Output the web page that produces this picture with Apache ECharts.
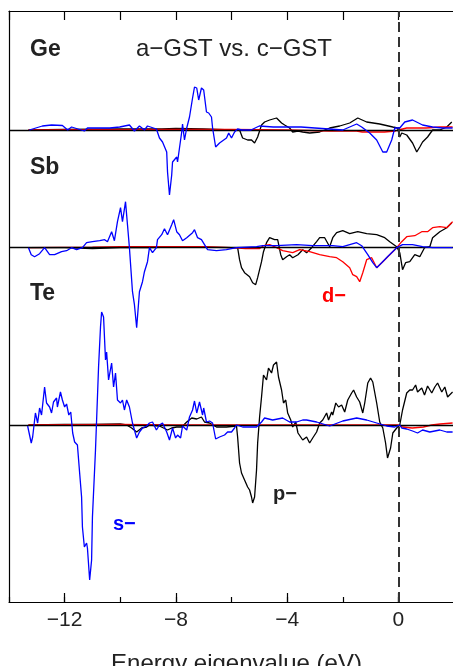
<!DOCTYPE html>
<html>
<head>
<meta charset="utf-8">
<script src="https://cdn.jsdelivr.net/npm/echarts@6/dist/echarts.min.js"></script>
<style>html,body{margin:0;padding:0;background:#fff;}#c{width:453px;height:666px;}</style>
</head>
<body>
<div id="c"></div>
<script>
// Energy axis ticks (eV)
var majorTicks = [-12, -8, -4, 0];
var xTitle = 'Energy eigenvalue (eV)';
var panelNames = ['Ge', 'Sb', 'Te'];
var titleText = 'a\u2212GST vs. c\u2212GST';
var orbitalLabels = ['s\u2212', 'p\u2212', 'd\u2212'];

// Ge: DOS difference a-GST minus c-GST, [energy eV, value]
var geS = [[-13.27,0],[-12.80,0.04],[-12.47,0.05],[-12.08,0.045],[-11.89,0],[-11.75,0.03],[-11.29,-0.01],[-11.18,0.02],[-10.74,0.02],[-10.38,0.02],[-10.02,0.03],[-9.67,0.05],[-9.49,-0.01],[-9.31,0.04],[-9.13,0],[-9.02,0.04],[-8.95,0.05],[-8.70,0.01],[-8.59,-0.08],[-8.48,-0.12],[-8.33,-0.22],[-8.30,-0.42],[-8.23,-0.65],[-8.15,-0.45],[-8.12,-0.32],[-7.97,-0.27],[-7.94,-0.32],[-7.87,-0.18],[-7.79,-0.02],[-7.76,0.06],[-7.69,-0.10],[-7.61,0.02],[-7.51,0.13],[-7.40,0.32],[-7.33,0.43],[-7.25,0.42],[-7.18,0.30],[-7.08,0.42],[-7.00,0.40],[-6.90,0.18],[-6.82,0.17],[-6.72,0.13],[-6.68,0.02],[-6.57,-0.17],[-6.43,-0.13],[-6.18,-0.08],[-6.10,-0.03],[-6.00,-0.08],[-5.89,-0.02],[-5.78,0.01],[-5.64,0],[-5.30,0.0],[-5.00,0.04],[-4.50,0.03],[-4.00,0.03],[-3.50,0.03],[-3.00,0.02],[-2.50,0.01],[-2.00,0.0],[-1.50,0.06],[-1.32,0.03],[-1.03,-0.03],[-0.78,-0.10],[-0.56,-0.22],[-0.42,-0.22],[-0.24,-0.10],[-0.13,0.02],[0.05,0.02],[0.23,0.08],[0.51,0.10],[0.87,0.05],[1.23,0.03],[1.59,0.02],[1.95,0.02]];
var geP = [[-13.30,0],[-12.0,0.005],[-10.0,0.01],[-8.5,0.01],[-8.0,0.015],[-7.0,0.01],[-6.0,0.0],[-5.71,0],[-5.60,-0.08],[-5.42,-0.10],[-5.28,-0.10],[-5.17,-0.13],[-5.06,-0.07],[-4.92,0.05],[-4.81,0.08],[-4.63,0.10],[-4.38,0.12],[-4.20,0.07],[-4.09,0.05],[-3.91,0.02],[-3.80,-0.02],[-3.61,-0.01],[-3.44,-0.02],[-3.19,-0.03],[-2.83,-0.02],[-2.47,0.02],[-2.11,0.04],[-1.75,0.07],[-1.46,0.12],[-1.14,0.08],[-0.67,0.06],[-0.20,0.03],[-0.03,0.02],[0.05,-0.07],[0.12,-0.03],[0.30,-0.05],[0.51,-0.13],[0.66,-0.22],[0.77,-0.17],[0.87,-0.12],[1.05,-0.07],[1.23,0],[1.49,0],[1.74,0.03],[1.92,0.08]];
var geD = [[-13.30,0],[-8.0,0.005],[-6.0,0.005],[-4.0,0.0],[-2.5,-0.01],[-1.5,-0.01],[-1.3,-0.02],[-0.9,-0.02],[-0.5,-0.02],[-0.1,-0.01],[0,0],[0.3,0.02],[1.0,0.02],[1.5,0.03],[1.95,0.03]];

// Sb
var sbS = [[-13.30,0],[-13.20,-0.07],[-13.08,-0.09],[-12.90,-0.06],[-12.72,0],[-12.54,-0.07],[-12.36,-0.07],[-12.11,-0.04],[-11.93,-0.03],[-11.75,0],[-11.57,-0.02],[-11.36,0],[-11.21,0.05],[-11.00,0.06],[-10.74,0.07],[-10.56,0.08],[-10.46,0.06],[-10.31,0.16],[-10.21,0.07],[-10.10,0.26],[-9.99,0.40],[-9.92,0.26],[-9.81,0.46],[-9.74,0.23],[-9.67,0],[-9.56,-0.44],[-9.49,-0.57],[-9.41,-0.80],[-9.31,-0.44],[-9.20,-0.34],[-9.13,-0.24],[-9.02,-0.14],[-8.95,0],[-8.84,-0.05],[-8.70,0],[-8.66,0.08],[-8.51,0.13],[-8.41,0.19],[-8.30,0.13],[-8.15,0.23],[-8.08,0.28],[-7.97,0.16],[-7.87,0.13],[-7.76,0.07],[-7.61,0.10],[-7.54,0.08],[-7.40,0.15],[-7.33,0.18],[-7.22,0.10],[-7.08,0.08],[-6.97,0.03],[-6.86,-0.02],[-6.54,-0.03],[-6.18,-0.02],[-5.82,0],[-5.10,0.01],[-4.88,0.02],[-4.38,0.02],[-3.66,0.03],[-3.08,0.02],[-2.36,0.02],[-2.00,0.01],[-1.50,0.05],[-1.32,0.02],[-1.10,-0.07],[-0.92,-0.15],[-0.78,-0.20],[-0.60,-0.15],[-0.39,-0.09],[-0.06,0],[0.15,0.03],[0.51,0.03],[0.87,0.01],[1.23,0],[1.95,0]];
var sbP = [[-13.30,0],[-12.0,0],[-11.0,-0.01],[-10.0,0.0],[-9.0,0],[-8.0,0.005],[-7.0,0.005],[-6.0,0],[-5.78,0],[-5.71,-0.12],[-5.64,-0.20],[-5.53,-0.25],[-5.46,-0.24],[-5.35,-0.29],[-5.24,-0.35],[-5.13,-0.37],[-5.06,-0.30],[-4.92,-0.14],[-4.85,-0.04],[-4.74,0.05],[-4.63,0.10],[-4.45,0.08],[-4.34,0.08],[-4.23,-0.07],[-4.16,-0.12],[-4.02,-0.09],[-3.91,-0.07],[-3.80,-0.10],[-3.61,-0.07],[-3.44,-0.02],[-3.30,-0.05],[-3.12,0],[-2.94,0.06],[-2.83,0.10],[-2.65,0.10],[-2.47,0.01],[-2.36,0.10],[-2.22,0.15],[-2.00,0.17],[-1.75,0.14],[-1.46,0.16],[-1.14,0.14],[-0.78,0.13],[-0.49,0.10],[-0.31,0.06],[-0.06,0.01],[0.05,-0.05],[0.15,-0.22],[0.26,-0.15],[0.41,-0.14],[0.59,-0.07],[0.77,-0.09],[0.94,0],[1.13,0.01],[1.23,0.10],[1.49,0.16],[1.74,0.20],[1.92,0.25]];
var sbD = [[-13.30,0],[-11.0,0.005],[-10.0,0.01],[-9.0,0.01],[-8.0,0.01],[-7.0,0.01],[-6.0,0],[-5.5,-0.01],[-5.0,-0.01],[-4.85,0.02],[-4.63,0.03],[-4.38,0],[-4.16,-0.03],[-3.80,-0.05],[-3.55,-0.02],[-3.19,-0.04],[-2.83,-0.07],[-2.47,-0.09],[-2.22,-0.10],[-2.00,-0.14],[-1.75,-0.20],[-1.64,-0.27],[-1.50,-0.29],[-1.39,-0.34],[-1.28,-0.25],[-1.14,-0.12],[-0.96,-0.10],[-0.78,-0.20],[-0.56,-0.14],[-0.31,-0.07],[-0.06,0],[0.12,0.06],[0.30,0.11],[0.59,0.12],[0.84,0.16],[1.05,0.16],[1.23,0.20],[1.49,0.21],[1.74,0.20],[1.95,0.26]];

// Te
var teS = [[-13.33,-0.01],[-13.20,-0.18],[-13.15,-0.12],[-13.05,0.12],[-12.97,0.02],[-12.90,0.17],[-12.83,0.10],[-12.72,0.38],[-12.65,0.22],[-12.54,0.18],[-12.47,0.12],[-12.40,0.23],[-12.29,0.27],[-12.26,0.18],[-12.15,0.33],[-12.08,0.25],[-12.00,0.18],[-11.93,0.21],[-11.85,0.10],[-11.78,0.13],[-11.71,-0.08],[-11.64,-0.17],[-11.54,-0.20],[-11.46,-0.48],[-11.39,-0.72],[-11.36,-1.02],[-11.29,-1.22],[-11.21,-1.18],[-11.18,-1.23],[-11.10,-1.55],[-11.03,-1.35],[-11.00,-0.92],[-10.89,-0.25],[-10.85,0.05],[-10.78,0.58],[-10.71,0.98],[-10.67,1.13],[-10.60,1.08],[-10.53,0.65],[-10.49,0.73],[-10.42,0.45],[-10.31,0.62],[-10.24,0.38],[-10.17,0.52],[-10.10,0.25],[-9.99,0.22],[-9.92,0.25],[-9.85,0.15],[-9.77,0.25],[-9.67,0.18],[-9.56,0.02],[-9.49,-0.05],[-9.41,-0.13],[-9.31,-0.07],[-9.20,-0.03],[-9.05,-0.01],[-8.95,0.02],[-8.84,0.03],[-8.70,-0.05],[-8.59,0],[-8.48,0.02],[-8.33,-0.07],[-8.23,-0.15],[-8.12,-0.03],[-8.01,-0.13],[-7.94,-0.10],[-7.83,-0.13],[-7.76,-0.01],[-7.61,-0.05],[-7.51,0.08],[-7.40,0.15],[-7.33,0.24],[-7.25,0.12],[-7.15,0.23],[-7.04,0.10],[-7.00,0.17],[-6.90,0.03],[-6.79,0.04],[-6.68,0.02],[-6.57,-0.14],[-6.43,-0.12],[-6.25,-0.10],[-6.14,-0.07],[-6.00,-0.07],[-5.89,-0.03],[-5.82,0],[-5.60,-0.02],[-5.35,-0.02],[-5.10,-0.02],[-4.92,0.03],[-4.81,0.07],[-4.52,0.05],[-4.16,0.07],[-3.91,0.03],[-3.66,0.03],[-3.44,0.05],[-3.30,0.05],[-2.94,0.03],[-2.47,-0.01],[-2.00,0.04],[-1.50,0.07],[-1.14,0.05],[-0.78,0.02],[-0.42,-0.01],[-0.13,-0.02],[0.05,0],[0.12,-0.03],[0.30,-0.04],[0.51,-0.06],[0.69,-0.08],[0.87,-0.05],[1.13,-0.07],[1.49,-0.05],[1.74,-0.07],[1.95,-0.07]];
var teP = [[-13.30,0],[-12.0,0.005],[-11.0,0.005],[-10.0,0.01],[-9.77,0],[-9.59,-0.03],[-9.41,-0.07],[-9.23,-0.03],[-9.05,-0.02],[-8.95,0],[-8.59,-0.01],[-8.30,-0.05],[-8.15,-0.03],[-7.97,-0.02],[-7.79,-0.02],[-7.61,0.03],[-7.43,0.07],[-7.25,0.06],[-7.08,0.08],[-6.97,0.03],[-6.79,0.02],[-6.54,-0.02],[-6.18,-0.02],[-5.82,-0.01],[-5.78,-0.12],[-5.71,-0.38],[-5.64,-0.48],[-5.60,-0.50],[-5.53,-0.55],[-5.46,-0.53],[-5.42,-0.62],[-5.35,-0.65],[-5.28,-0.72],[-5.24,-0.78],[-5.17,-0.72],[-5.10,-0.45],[-5.06,-0.18],[-4.99,0.08],[-4.92,0.28],[-4.85,0.50],[-4.74,0.45],[-4.67,0.57],[-4.56,0.52],[-4.49,0.60],[-4.38,0.63],[-4.31,0.48],[-4.20,0.35],[-4.13,0.22],[-4.05,0.25],[-3.98,0.12],[-3.87,0.05],[-3.80,-0.02],[-3.69,0.03],[-3.61,-0.08],[-3.55,-0.08],[-3.44,-0.15],[-3.30,-0.12],[-3.19,-0.18],[-3.08,-0.13],[-2.94,-0.07],[-2.83,0.02],[-2.72,0.05],[-2.58,0.12],[-2.51,0.05],[-2.40,0.13],[-2.36,0.10],[-2.25,0.22],[-2.15,0.18],[-2.04,0.20],[-1.93,0.13],[-1.82,0.25],[-1.68,0.32],[-1.61,0.35],[-1.50,0.28],[-1.39,0.23],[-1.28,0.12],[-1.21,0.22],[-1.10,0.42],[-1.00,0.47],[-0.92,0.43],[-0.78,0.22],[-0.67,0.03],[-0.56,-0.03],[-0.46,-0.18],[-0.39,-0.33],[-0.28,-0.23],[-0.20,-0.08],[-0.06,-0.03],[0.05,0],[0.15,0.15],[0.30,0.32],[0.41,0.35],[0.51,0.35],[0.62,0.40],[0.69,0.33],[0.84,0.37],[0.94,0.30],[1.05,0.39],[1.20,0.32],[1.31,0.38],[1.41,0.42],[1.56,0.33],[1.67,0.38],[1.77,0.28],[1.95,0.33]];
var teD = [[-13.30,0],[-10.0,0.005],[-8.0,0.0],[-5.0,0.0],[-2.0,0.0],[-0.5,0],[0,0],[0.15,-0.02],[0.5,-0.03],[0.9,-0.02],[1.2,0],[1.5,0.01],[1.95,0.02]];

// y-axis windows per panel (arbitrary DOS units)
var yRanges = [[-4.72, 1.19], [-3.543, 2.367], [-1.77, 4.14]];

var BLUE = '#0000ff', BLACK = '#000000', RED = '#ff0000';
var FONT = '"Liberation Sans", Arial, Helvetica, sans-serif';
var G = {left: 9, top: 11, width: 445, height: 591};

var chart = echarts.init(document.getElementById('c'), null, {renderer: 'canvas'});

var grids = [], xAxes = [], yAxes = [], series = [];
var panels = [[geS, geP, geD], [sbS, sbP, sbD], [teS, teP, teD]];
for (var i = 0; i < 3; i++) {
  grids.push(Object.assign({outerBoundsMode: 'none', containLabel: false}, G));
  xAxes.push({gridIndex: i, type: 'value', min: -14, max: 2, show: false});
  yAxes.push({gridIndex: i, type: 'value', min: yRanges[i][0], max: yRanges[i][1], show: false});
  var p = panels[i];
  var order = [[p[1], BLACK], [p[2], RED], [p[0], BLUE]];
  order.forEach(function (o, k) {
    var s = {
      type: 'line', xAxisIndex: i, yAxisIndex: i, data: o[0], showSymbol: false, symbol: 'none',
      lineStyle: {color: o[1], width: 1.3}, silent: true, animation: false, z: 3 + k
    };
    if (k === 0) {
      s.markLine = {
        symbol: 'none', silent: true, animation: false, label: {show: false},
        lineStyle: {color: '#000', width: 1.3, type: 'solid'},
        data: [{yAxis: 0}]
      };
    }
    series.push(s);
  });
}
// frame grid
grids.push(Object.assign({outerBoundsMode: 'none', containLabel: false}, G));
var axisLineStyle = {show: true, onZero: false, lineStyle: {color: '#000', width: 1.2}};
xAxes.push({
  gridIndex: 3, type: 'value', position: 'bottom', min: -14, max: 2, interval: 2,
  axisLine: axisLineStyle, splitLine: {show: false},
  axisTick: {show: true, inside: true, length: 5, lineStyle: {color: '#000', width: 1.2}},
  axisLabel: {show: false}
});
xAxes.push({
  gridIndex: 3, type: 'value', position: 'bottom', min: -14, max: 2,
  axisLine: {show: false}, splitLine: {show: false},
  axisTick: {show: true, inside: true, length: 9, customValues: majorTicks, lineStyle: {color: '#000', width: 1.2}},
  axisLabel: {
    show: true, customValues: majorTicks, margin: 8, color: '#222', fontSize: 21, fontFamily: FONT,
    formatter: function (v) { return v < 0 ? '\u2212' + Math.abs(v) : String(v); }
  },
  name: xTitle, nameLocation: 'middle', nameGap: 50,
  nameTextStyle: {color: '#222', fontSize: 24, fontFamily: FONT, padding: [0, 0, 0, 10]}
});
xAxes.push({
  gridIndex: 3, type: 'value', position: 'top', min: -14, max: 2, interval: 2,
  axisLine: axisLineStyle, splitLine: {show: false},
  axisTick: {show: true, inside: true, length: 9, lineStyle: {color: '#000', width: 1.2}},
  axisLabel: {show: false}
});
yAxes.push({
  gridIndex: 3, type: 'value', position: 'left', min: 0, max: 1,
  axisLine: axisLineStyle, axisTick: {show: false}, axisLabel: {show: false}, splitLine: {show: false}
});
series.push({
  type: 'line', xAxisIndex: 3, yAxisIndex: 3, data: [], silent: true, animation: false,
  markLine: {
    symbol: 'none', silent: true, animation: false, label: {show: false},
    lineStyle: {color: '#333', width: 2, type: [10, 5]},
    data: [{xAxis: 0}]
  }
});

function txt(s, x, y, size, weight, color, align) {
  return {type: 'text', x: x, y: y, silent: true, z: 10,
    style: {text: s, font: weight + ' ' + size + 'px ' + FONT, fill: color, align: align || 'left', verticalAlign: 'middle'}};
}

var option = {
  animation: false,
  backgroundColor: '#fff',
  grid: grids, xAxis: xAxes, yAxis: yAxes, series: series,
  graphic: [
    txt(panelNames[0], 30, 50, 23, 'bold', '#222'),
    txt(titleText, 234, 49, 24, 'normal', '#222', 'center'),
    txt(panelNames[1], 30, 168, 23, 'bold', '#222'),
    txt(panelNames[2], 30, 294, 23, 'bold', '#222'),
    txt(orbitalLabels[2], 322, 296, 20, 'bold', RED),
    txt(orbitalLabels[1], 273, 494, 20, 'bold', '#222'),
    txt(orbitalLabels[0], 113, 524, 20, 'bold', BLUE)
  ]
};
chart.setOption(option);
</script>
</body>
</html>
